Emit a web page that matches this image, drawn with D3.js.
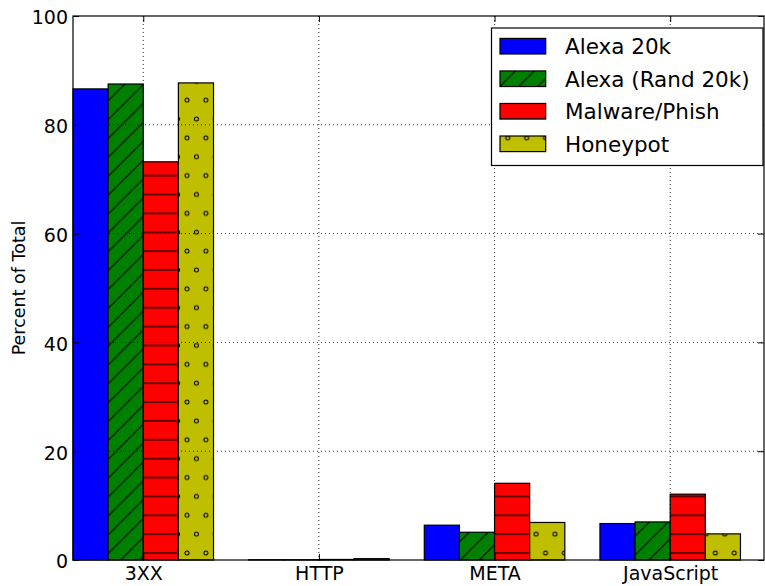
<!DOCTYPE html>
<html>
<head>
<meta charset="utf-8">
<script src="https://cdn.jsdelivr.net/npm/d3@7"></script>
<style>
  html, body { margin: 0; padding: 0; background: #fff; }
  svg { display: block; }
  text { font-family: "DejaVu Sans", sans-serif; fill: #000; }
</style>
</head>
<body>
<svg id="chart" width="765" height="586"></svg>
<script>
// ---- data ----
const categories = ["3XX", "HTTP", "META", "JavaScript"];
const seriesNames = ["Alexa 20k", "Alexa (Rand 20k)", "Malware/Phish", "Honeypot"];
const alexa20k     = [86.6, 0.05, 6.4, 6.7];
const alexaRand20k = [87.5, 0.05, 5.1, 7.0];
const malwarePhish = [73.2, 0.1, 14.1, 12.1];
const honeypot     = [87.7, 0.25, 6.9, 4.8];
const yTicks = [0, 20, 40, 60, 80, 100];
const yLabel = "Percent of Total";

const seriesValues = [alexa20k, alexaRand20k, malwarePhish, honeypot];
const fills = ["#0000ff", "url(#hatchDiag)", "url(#hatchHoriz)", "url(#hatchCircles)"];

const svg = d3.select("#chart");
const L = 73, R = 764, T = 16, B = 560;
const barW = 0.2;
const x = d3.scaleLinear().domain([0, 3.934]).range([L, R]);
const y = d3.scaleLinear().domain([0, 100]).range([B, T]);

// ---- hatch patterns ----
const hp = 18.87;
const defs = svg.append("defs");
const pd = defs.append("pattern").attr("id", "hatchDiag")
  .attr("patternUnits", "userSpaceOnUse").attr("width", hp).attr("height", hp)
  .attr("x", 1.4).attr("y", 0);
pd.append("rect").attr("width", hp).attr("height", hp).attr("fill", "#008000");
[[0, hp, hp, 0], [-hp, hp, hp, -hp], [0, 2 * hp, 2 * hp, 0]].forEach(c => {
  pd.append("line").attr("x1", c[0]).attr("y1", c[1]).attr("x2", c[2]).attr("y2", c[3])
    .attr("stroke", "#000").attr("stroke-width", 1);
});
const ph = defs.append("pattern").attr("id", "hatchHoriz")
  .attr("patternUnits", "userSpaceOnUse").attr("width", hp).attr("height", hp)
  .attr("x", 0).attr("y", 5.8);
ph.append("rect").attr("width", hp).attr("height", hp).attr("fill", "#ff0000");
ph.append("line").attr("x1", 0).attr("y1", 0).attr("x2", hp).attr("y2", 0)
  .attr("stroke", "#000").attr("stroke-width", 1.2);
ph.append("line").attr("x1", 0).attr("y1", hp).attr("x2", hp).attr("y2", hp)
  .attr("stroke", "#000").attr("stroke-width", 1.2);
const pc = defs.append("pattern").attr("id", "hatchCircles")
  .attr("patternUnits", "userSpaceOnUse").attr("width", hp).attr("height", 2 * hp)
  .attr("x", 17.17).attr("y", 24.64);
pc.append("rect").attr("width", hp).attr("height", 2 * hp).attr("fill", "#bfbf00");
[[0, 0], [hp, 0], [0, 2 * hp], [hp, 2 * hp], [hp / 2, hp]].forEach(c => {
  pc.append("circle").attr("cx", c[0]).attr("cy", c[1]).attr("r", 2)
    .attr("fill", "none").attr("stroke", "#000").attr("stroke-width", 1);
});

// ---- bars ----
const gBars = svg.append("g");
seriesValues.forEach((vals, s) => {
  gBars.selectAll(null).data(vals).enter().append("rect")
    .attr("x", (d, i) => x(i + s * barW))
    .attr("width", x(barW) - x(0))
    .attr("y", d => y(d))
    .attr("height", d => y(0) - y(d))
    .attr("fill", fills[s])
    .attr("stroke", "#000").attr("stroke-width", 1.2);
});

// ---- grid (on top of bars) ----
const gGrid = svg.append("g").attr("stroke", "#000").attr("stroke-width", 0.8)
  .attr("stroke-dasharray", "1,3");
gGrid.selectAll(null).data(yTicks.slice(1, -1)).enter().append("line")
  .attr("x1", L).attr("x2", R).attr("y1", d => y(d)).attr("y2", d => y(d));
gGrid.selectAll(null).data(categories).enter().append("line")
  .attr("x1", (d, i) => x(i + 0.4)).attr("x2", (d, i) => x(i + 0.4))
  .attr("y1", T).attr("y2", B);

// ---- axes ----
const yAxisL = d3.axisLeft(y).tickValues(yTicks).tickSize(-6).tickPadding(5)
  .tickFormat(d3.format("d"));
const yAxisR = d3.axisRight(y).tickValues(yTicks).tickSize(-6).tickFormat("");
const xAxisB = d3.axisBottom(x).tickValues(categories.map((c, i) => i + 0.4))
  .tickSize(-6).tickPadding(7).tickFormat((d, i) => categories[i]);
const xAxisT = d3.axisTop(x).tickValues(categories.map((c, i) => i + 0.4))
  .tickSize(-6).tickFormat("");

function styleAxis(g) {
  g.select(".domain").remove();
  g.selectAll(".tick line").attr("stroke", "#000").attr("stroke-width", 1);
  g.selectAll("text").attr("font-family", "DejaVu Sans").attr("font-size", 19).attr("fill", "#000");
}
svg.append("g").attr("transform", `translate(${L},0)`).call(yAxisL).call(styleAxis)
  .selectAll("text").attr("dy", "0.42em");
svg.append("g").attr("transform", `translate(${R},0)`).call(yAxisR).call(styleAxis);
svg.append("g").attr("transform", `translate(0,${B})`).call(xAxisB).call(styleAxis);
svg.append("g").attr("transform", `translate(0,${T})`).call(xAxisT).call(styleAxis);

// frame
svg.append("rect").attr("x", L).attr("y", T).attr("width", R - L).attr("height", B - T)
  .attr("fill", "none").attr("stroke", "#000").attr("stroke-width", 1.2);

// y label
svg.append("text")
  .attr("transform", `translate(25,${(T + B) / 2}) rotate(-90)`)
  .attr("text-anchor", "middle").attr("font-size", 17.5)
  .text(yLabel);

// ---- legend ----
const lg = svg.append("g");
lg.append("rect").attr("x", 491.5).attr("y", 28).attr("width", 271.5).attr("height", 137.5)
  .attr("fill", "#fff").attr("stroke", "#000").attr("stroke-width", 1.2);
const rowY = d3.scaleLinear().domain([0, 3]).range([46.2, 143.8]);
seriesNames.forEach((name, s) => {
  lg.append("rect").attr("x", 500).attr("y", rowY(s) - 7.8).attr("width", 45.7).attr("height", 15.6)
    .attr("fill", fills[s]).attr("stroke", "#000").attr("stroke-width", 1.2);
  lg.append("text").attr("x", 565).attr("y", rowY(s) + 8).attr("font-size", 21.5).text(name);
});
</script>
</body>
</html>
